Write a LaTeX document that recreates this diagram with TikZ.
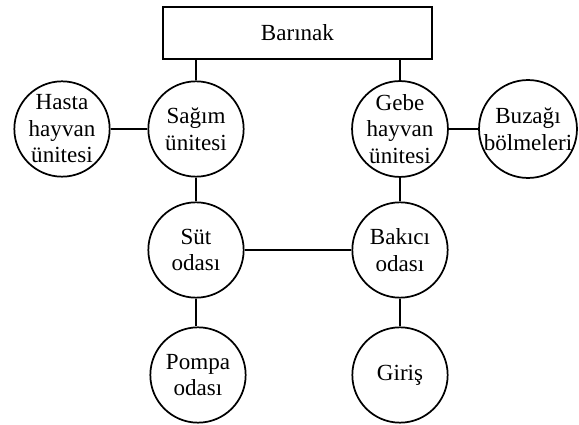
\documentclass[tikz,border=0pt]{standalone}
\usepackage{fontspec}
\setmainfont{Liberation Serif}
\begin{document}
\begin{tikzpicture}[x=0.75pt, y=0.75pt,
    room/.style={draw, circle, line width=1.3pt, minimum size=71.5pt, inner sep=0pt,
      align=center, font=\fontsize{17.3}{19.9}\selectfont},
    hall/.style={draw, rectangle, line width=1.7pt, minimum width=201.5pt,
      minimum height=39pt, inner sep=0pt, font=\fontsize{17.3}{19.9}\selectfont},
    link/.style={line width=1.7pt}]
      \useasboundingbox (0,0) rectangle (579,425);

      % Barn on top
      \node[hall] (barinak) at (297.5,392) {Barınak};

      % Rooms
      \node[room] (hasta)  at (62,296)  {Hasta\\hayvan\\ünitesi};
      \node[room] (sagim)  at (196,296) {Sağım\\ünitesi};
      \node[room] (gebe)   at (400,296) {Gebe\\hayvan\\ünitesi};
      \node[room] (buzagi) at (528,296) {Buzağı\\bölmeleri};
      \node[room] (sut)    at (196,175) {Süt\\odası};
      \node[room] (bakici) at (400,175) {Bakıcı\\odası};
      \node[room] (pompa)  at (198,50)  {Pompa\\odası};
      \node[room] (giris)  at (400,50)  {Giriş};

      % Links
      \draw[link] (sagim) -- (sagim |- barinak.south);
      \draw[link] (gebe) -- (gebe |- barinak.south);
      \draw[link] (hasta) -- (sagim);
      \draw[link] (gebe) -- (buzagi);
      \draw[link] (sagim) -- (sut);
      \draw[link] (gebe) -- (bakici);
      \draw[link] (sut) -- (bakici);
      \draw[link] (sut) -- (sut |- pompa.north);
      \draw[link] (bakici) -- (giris);
\end{tikzpicture}
\end{document}
